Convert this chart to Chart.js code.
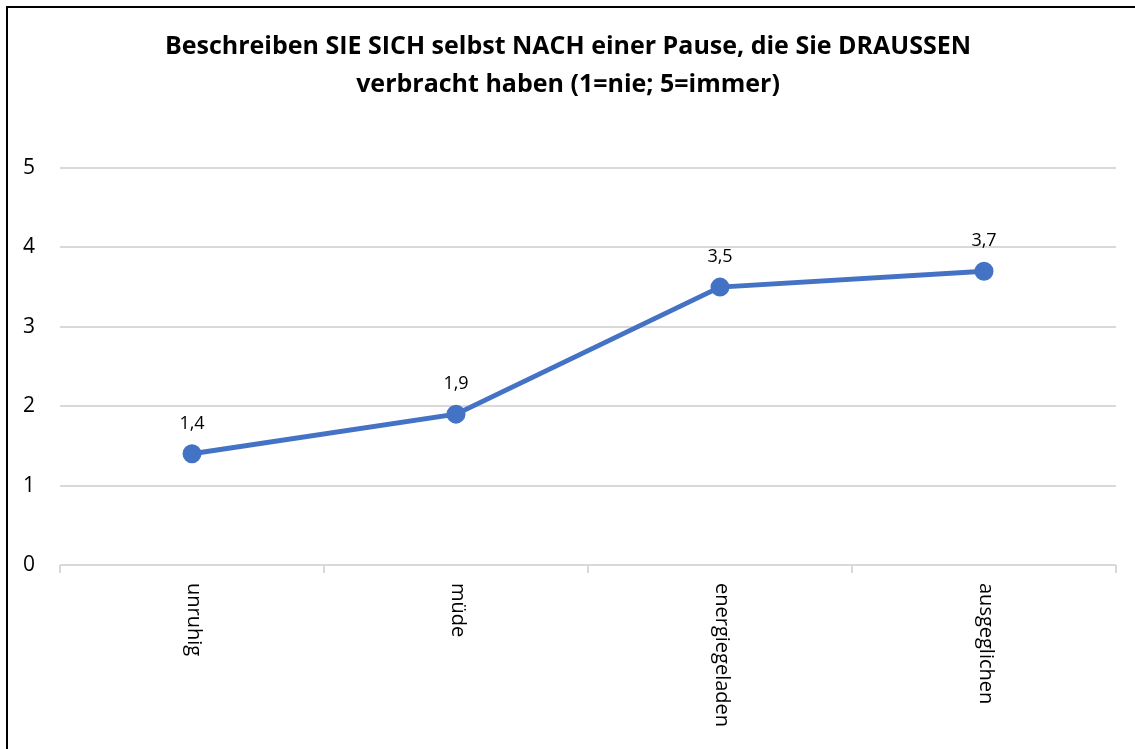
<!DOCTYPE html>
<html>
<head>
<meta charset="utf-8">
<script src="https://cdn.jsdelivr.net/npm/chart.js@4"></script>
<style>
  html, body { margin: 0; padding: 0; background: #fff; }
  #wrap { position: relative; width: 1135px; height: 749px; }
  #frame {
    position: absolute; left: 6px; top: 6px; right: 0; bottom: -4px;
    border-left: 2px solid #000; border-top: 2px solid #000;
    pointer-events: none;
  }
</style>
</head>
<body>
<div id="wrap">
  <canvas id="chart" width="1135" height="749"></canvas>
  <div id="frame"></div>
</div>
<script>
const categories = ["unruhig", "müde", "energiegeladen", "ausgeglichen"];
const values = [1.4, 1.9, 3.5, 3.7];
const titleLines = [
  "Beschreiben SIE SICH selbst NACH einer Pause, die Sie DRAUSSEN",
  "verbracht haben (1=nie; 5=immer)"
];

const FONT = "'Open Sans', 'Noto Sans', sans-serif";
const BLUE = "#4472C4";
const GRID = "#d9d9d9";

// value labels above each point, German decimal comma
const valueLabels = {
  id: "valueLabels",
  afterDatasetsDraw(chart) {
    const ctx = chart.ctx;
    const meta = chart.getDatasetMeta(0);
    ctx.save();
    ctx.font = "18px " + FONT;
    ctx.fillStyle = "#000";
    ctx.textAlign = "center";
    ctx.textBaseline = "middle";
    meta.data.forEach((pt, i) => {
      ctx.fillText(values[i].toFixed(1).replace(".", ","), pt.x, pt.y - 30);
    });
    ctx.restore();
  }
};

// x labels rotated clockwise (read top to bottom)
const rotatedLabels = {
  id: "rotatedLabels",
  afterDraw(chart) {
    const ctx = chart.ctx;
    const xs = chart.scales.x;
    ctx.save();
    ctx.font = "20px " + FONT;
    ctx.fillStyle = "#000";
    ctx.textAlign = "left";
    ctx.textBaseline = "middle";
    categories.forEach((c, i) => {
      const x = xs.getPixelForValue(i);
      ctx.save();
      ctx.translate(x + 2, xs.top + 18);
      ctx.rotate(Math.PI / 2);
      ctx.fillText(c, 0, 0);
      ctx.restore();
    });
    ctx.restore();
  }
};

new Chart(document.getElementById("chart"), {
  type: "line",
  data: {
    labels: categories,
    datasets: [{
      data: values,
      borderColor: BLUE,
      backgroundColor: BLUE,
      borderWidth: 5,
      pointRadius: 7,
      pointHoverRadius: 7,
      tension: 0
    }]
  },
  options: {
    responsive: false,
    animation: false,
    layout: { padding: { left: 20, right: 19, top: 0, bottom: 0 } },
    plugins: {
      legend: { display: false },
      tooltip: { enabled: false },
      title: {
        display: true,
        text: titleLines,
        color: "#000",
        font: { family: FONT, size: 25, weight: "bold", lineHeight: 1.52 },
        padding: { top: 28, bottom: 64 }
      }
    },
    scales: {
      x: {
        offset: true,
        border: { display: false },
        grid: {
          offset: true,
          drawOnChartArea: false,
          drawTicks: true,
          tickLength: 8,
          color: GRID,
          lineWidth: 2
        },
        ticks: { display: false },
        afterFit: s => { s.height = 184; }
      },
      y: {
        min: 0,
        max: 5,
        border: { display: false },
        grid: { color: GRID, lineWidth: 2, drawTicks: false },
        ticks: {
          stepSize: 1,
          color: "#000",
          padding: 25,
          font: { family: FONT, size: 21 }
        },
        afterFit: s => { s.width = 40; }
      }
    }
  },
  plugins: [valueLabels, rotatedLabels]
});
</script>
</body>
</html>
